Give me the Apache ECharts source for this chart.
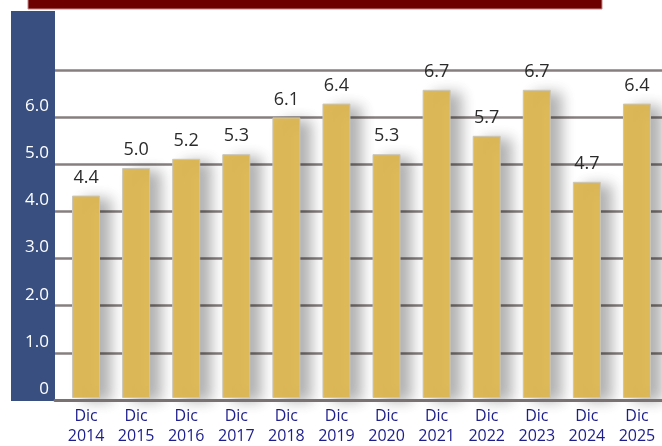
<!DOCTYPE html>
<html>
<head>
<meta charset="utf-8">
<script src="https://cdn.jsdelivr.net/npm/echarts@6/dist/echarts.min.js"></script>
<style>
html,body{margin:0;padding:0;background:#fff;}
#chart{width:662px;height:446px;}
</style>
</head>
<body>
<div id="chart"></div>
<script>
var categories = ['Dic\n2014','Dic\n2015','Dic\n2016','Dic\n2017','Dic\n2018','Dic\n2019','Dic\n2020','Dic\n2021','Dic\n2022','Dic\n2023','Dic\n2024','Dic\n2025'];
var values = [4.4, 5.0, 5.2, 5.3, 6.1, 6.4, 5.3, 6.7, 5.7, 6.7, 4.7, 6.4];
var yMin = 0, yMax = 7, yStep = 1;
var barAxisMax = 7.13;

var chart = echarts.init(document.getElementById('chart'), null, {renderer:'canvas'});
var font = '"Open Sans", "Noto Sans", sans-serif';
chart.setOption({
  animation: false,
  backgroundColor: '#ffffff',
  graphic: [
    {type:'rect', shape:{x:28, y:-1, width:574, height:10}, style:{fill:'#6e0000', stroke:'#c48a8a', lineWidth:1}, z:0},
    {type:'rect', shape:{x:11, y:11, width:44, height:390}, style:{fill:'#384f80'}, z:0}
  ],
  grid: [
    {left:55, right:0, top:70, bottom:46},
    {left:61, right:-1, top:70, bottom:46}
  ],
  xAxis: [
    {gridIndex:0, type:'value', min:0, max:1, axisLabel:{show:false}, axisTick:{show:false}, splitLine:{show:false},
     axisLine:{show:true, lineStyle:{color:'#7a7272', width:3}}, z:5},
    {gridIndex:1, type:'category', data:categories, axisTick:{show:false}, axisLine:{show:false},
     axisLabel:{color:'#1d1d8c', fontSize:16, fontFamily:font, lineHeight:20, margin:8}}
  ],
  yAxis: [
    {gridIndex:0, type:'value', min:yMin, max:yMax, interval:yStep,
     axisLine:{show:false}, axisTick:{show:false},
     splitLine:{show:true, lineStyle:{color:'#877f7f', width:2.5}},
     axisLabel:{color:'#ffffff', fontSize:17, fontFamily:font, margin:6, verticalAlign:'bottom', lineHeight:22,
       showMaxLabel:false,
       formatter:function(v){return v===0?'0':v.toFixed(1);}}},
    {gridIndex:1, type:'value', min:yMin, max:barAxisMax, show:false}
  ],
  series: [{
    type:'bar', xAxisIndex:1, yAxisIndex:1, data:values, barWidth:28, z:3,
    itemStyle:{color:'#dfba59', borderColor:'#c9c6bd', borderWidth:1,
      shadowColor:'rgba(0,0,0,0.3)', shadowBlur:14, shadowOffsetX:11, shadowOffsetY:3},
    label:{show:true, position:'top', distance:9, color:'#2b2b2b', fontSize:18, fontFamily:font,
      formatter:function(p){return p.value.toFixed(1);}}
  }]
});
</script>
</body>
</html>
